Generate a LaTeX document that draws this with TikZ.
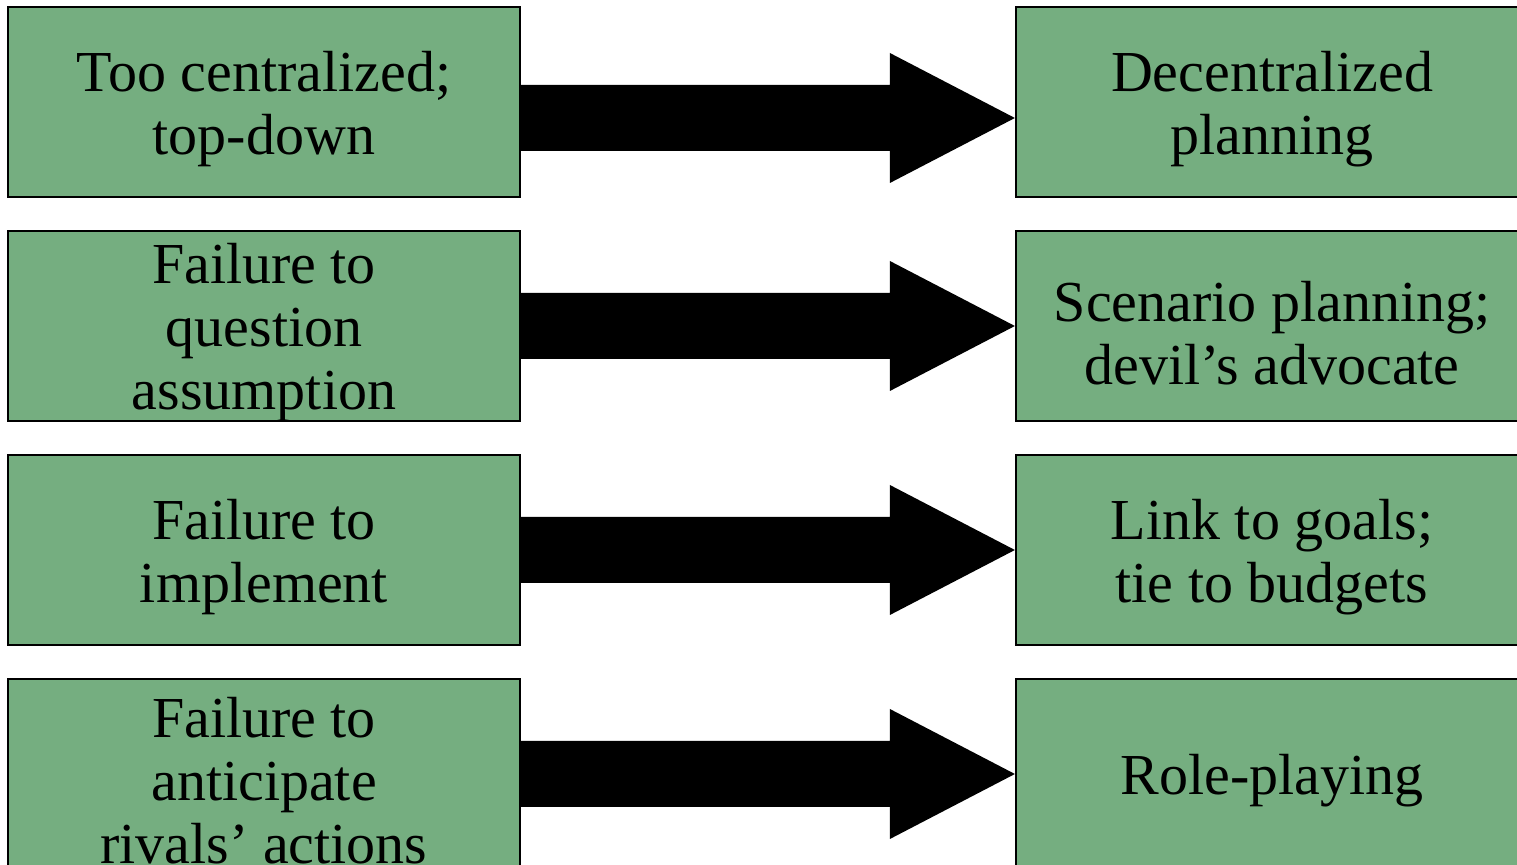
\documentclass[tikz,border=0pt]{standalone}
\usepackage{fontspec}
\setmainfont{Liberation Serif}
\usetikzlibrary{calc}
\definecolor{boxgreen}{RGB}{117,174,128}
\tikzset{
  box/.style={draw=black, line width=1.1pt, fill=boxgreen, rectangle,
    minimum width=256pt, minimum height=95pt, inner sep=0pt},
  boxtext/.style={inner sep=0pt, align=center,
    font=\fontsize{29}{31.5}\selectfont},
  bigarrow/.style={fill=black}
}
\begin{document}
\begin{tikzpicture}[x=0.5pt,y=-0.5pt]
  \useasboundingbox (0,0) rectangle (1517,865);
  \clip (0,0) rectangle (1517,865);
  % problems (left) and remedies (right)
  \foreach \n/\x/\y/\t in {
      l1/264/102/{Too centralized;\\top-down},
      l2/264/326/{Failure to\\question\\assumption},
      l3/264/550/{Failure to\\implement},
      l4/264/774/{Failure to\\anticipate\\rivals’ actions},
      r1/1272/102/{Decentralized\\planning},
      r2/1272/326/{Scenario planning;\\devil’s advocate},
      r3/1272/550/{Link to goals;\\tie to budgets},
      r4/1272/774/{Role-playing}}{
    \node[box] (\n) at (\x,\y) {};
    \node[boxtext] (\n-text) at ($(\n.center)+(0,-3.5pt)$) {\t};
  }
  % block arrows from each problem to its remedy
  \foreach \i/\dy in {1/-8pt,2/0pt,3/0pt,4/0pt}{
    \fill[bigarrow]
      ($(l\i.east)+(0,\dy+16.5pt)$) --
      ($(r\i.west)+(-62.5pt,\dy+16.5pt)$) --
      ($(r\i.west)+(-62.5pt,\dy+32.5pt)$) --
      ($(r\i.west)+(0,\dy)$) --
      ($(r\i.west)+(-62.5pt,\dy-32.5pt)$) --
      ($(r\i.west)+(-62.5pt,\dy-16.5pt)$) --
      ($(l\i.east)+(0,\dy-16.5pt)$) -- cycle;
  }
\end{tikzpicture}
\end{document}
